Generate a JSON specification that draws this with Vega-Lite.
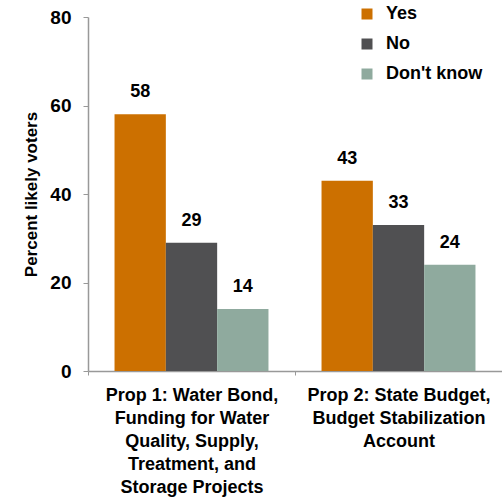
{
  "$schema": "https://vega.github.io/schema/vega-lite/v6.json",
  "width": 414,
  "height": 354,
  "autosize": {"type": "none"},
  "padding": {"left": 88, "top": 17, "right": 0, "bottom": 129},
  "background": "white",
  "config": {
    "view": {"stroke": null},
    "font": "Liberation Sans"
  },
  "data": {
    "values": [
      {"prop": "Prop 1: Water Bond,|Funding for Water|Quality, Supply,|Treatment, and|Storage Projects", "answer": "Yes", "value": 58},
      {"prop": "Prop 1: Water Bond,|Funding for Water|Quality, Supply,|Treatment, and|Storage Projects", "answer": "No", "value": 29},
      {"prop": "Prop 1: Water Bond,|Funding for Water|Quality, Supply,|Treatment, and|Storage Projects", "answer": "Don't know", "value": 14},
      {"prop": "Prop 2: State Budget,|Budget Stabilization|Account", "answer": "Yes", "value": 43},
      {"prop": "Prop 2: State Budget,|Budget Stabilization|Account", "answer": "No", "value": 33},
      {"prop": "Prop 2: State Budget,|Budget Stabilization|Account", "answer": "Don't know", "value": 24}
    ]
  },
  "encoding": {
    "x": {
      "field": "prop",
      "type": "nominal",
      "sort": null,
      "scale": {"paddingInner": 0, "paddingOuter": 0},
      "axis": {
        "title": null,
        "labelAngle": 0,
        "labelExpr": "split(datum.label, '|')",
        "labelFont": "Liberation Sans",
        "labelFontWeight": "bold",
        "labelFontSize": 18,
        "labelLineHeight": 23,
        "labelLimit": 400,
        "labelColor": "#000000",
        "labelPadding": 11,
        "tickBand": "extent",
        "tickSize": 4,
        "tickColor": "#999999",
        "domainColor": "#999999",
        "domainWidth": 1.5
      }
    },
    "xOffset": {
      "field": "answer",
      "type": "nominal",
      "sort": ["Yes", "No", "Don't know"],
      "scale": {"paddingInner": 0, "paddingOuter": 0.517}
    },
    "y": {
      "field": "value",
      "type": "quantitative",
      "scale": {"domain": [0, 80]},
      "axis": {
        "title": "Percent likely voters",
        "titleFont": "Liberation Sans",
        "titleFontSize": 17,
        "titleFontWeight": "bold",
        "titleColor": "#000000",
        "titlePadding": 9,
        "values": [0, 20, 40, 60, 80],
        "grid": false,
        "labelFont": "Liberation Sans",
        "labelFontSize": 19,
        "labelFontWeight": "bold",
        "labelColor": "#000000",
        "labelPadding": 12,
        "tickSize": 5,
        "tickColor": "#999999",
        "domainColor": "#999999",
        "domainWidth": 1.5
      }
    }
  },
  "layer": [
    {
      "mark": {"type": "bar"},
      "encoding": {
        "color": {
          "field": "answer",
          "type": "nominal",
          "sort": ["Yes", "No", "Don't know"],
          "scale": {"domain": ["Yes", "No", "Don't know"], "range": ["#CC7000", "#505052", "#8FAA9E"]},
          "legend": {
            "title": null,
            "orient": "none",
            "legendX": 270,
            "legendY": -12,
            "symbolType": "square",
            "symbolSize": 121,
            "symbolStrokeWidth": 0,
            "rowPadding": 12,
            "labelFont": "Liberation Sans",
            "labelFontSize": 18,
            "labelFontWeight": "bold",
            "labelColor": "#000000",
            "labelOffset": 10
          }
        }
      }
    },
    {
      "mark": {"type": "text", "baseline": "alphabetic", "dy": -17, "fontSize": 18, "fontWeight": "bold", "font": "Liberation Sans", "color": "#000000"},
      "encoding": {
        "text": {"field": "value", "type": "quantitative"}
      }
    }
  ]
}
